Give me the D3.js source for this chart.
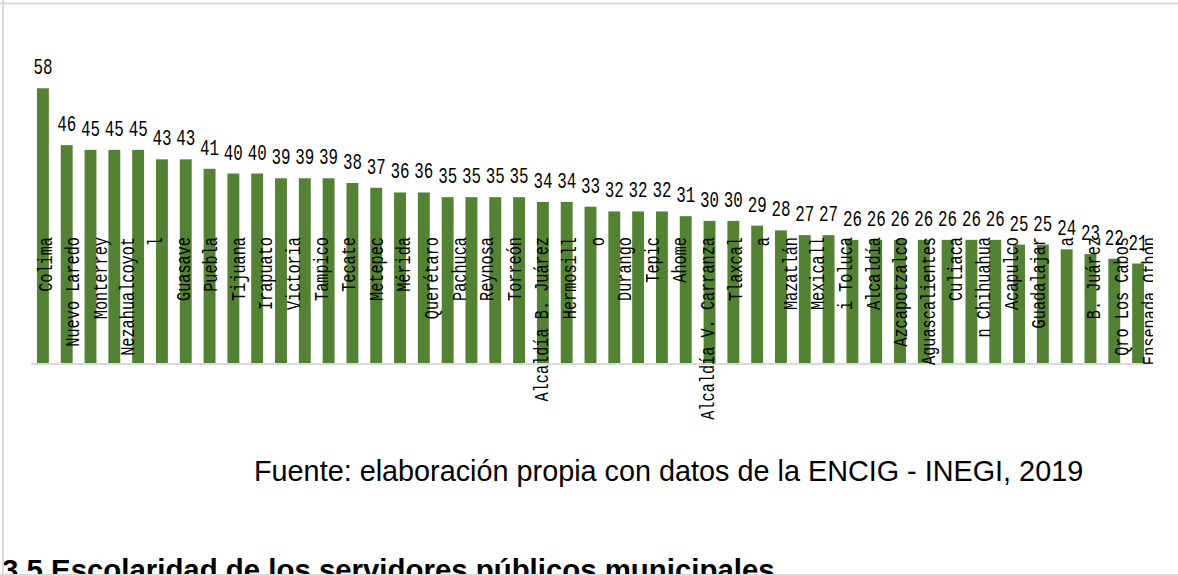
<!DOCTYPE html>
<html>
<head>
<meta charset="utf-8">
<script src="https://cdn.jsdelivr.net/npm/d3@7"></script>
<style>
  html, body { margin: 0; padding: 0; background: #fff; }
  svg { display: block; }
</style>
</head>
<body>
<svg id="chart" width="1178" height="576"></svg>
<script>
// Porcentaje por municipio, ordenado de mayor a menor
const valores = [58, 46, 45, 45, 45, 43, 43, 41, 40, 40, 39, 39, 39, 38, 37, 36, 36,
  35, 35, 35, 35, 34, 34, 33, 32, 32, 32, 31, 30, 30, 29, 28, 27, 27, 26, 26, 26,
  26, 26, 26, 26, 25, 25, 24, 23, 22, 21];

// Etiquetas del eje de categorías, tal como quedan partidas en líneas
const etiquetas = ["Colima", "Nuevo Laredo", "Monterrey", "Nezahualcoyot", "l", "Guasave",
  "Puebla", "Tijuana", "Irapuato", "Victoria", "Tampico", "Tecate", "Metepec", "Mérida",
  "Querétaro", "Pachuca", "Reynosa", "Torreón", "Alcaldía B. Juárez", "Hermosill", "o",
  "Durango", "Tepic", "Ahome", "Alcaldía V. Carranza", "Tlaxcal", "a", "Mazatlán",
  "Mexicall", "i Toluca", "Alcaldía", "Azcapotzalco", "Aguascalientes", "Culiaca",
  "n Chihuahua", "Acapulco", "Guadalajar", "a", "B. Juárez", "Qro Los Cabos",
  "Ensenada Othón"];

const fuente = "Fuente: elaboración propia con datos de la ENCIG - INEGI, 2019";
const titulo = "3.5 Escolaridad de los servidores públicos municipales";

const svg = d3.select("#chart");
const W = 1178, H = 576;
const baseY = 363;

svg.append("rect").attr("width", W).attr("height", H).attr("fill", "#fff");

const x = d3.scaleBand()
  .domain(d3.range(valores.length))
  .range([31, 1150])
  .paddingInner(0.5)
  .paddingOuter(0.25);

const y = d3.scaleLinear().domain([0, 60]).range([baseY, 78.8]);

const xLab = d3.scalePoint()
  .domain(d3.range(etiquetas.length))
  .range([44, 1148]);

// Barras
svg.append("g")
  .selectAll("rect")
  .data(valores)
  .join("rect")
  .attr("x", (d, i) => x(i))
  .attr("y", d => y(d))
  .attr("width", x.bandwidth())
  .attr("height", d => y(0) - y(d))
  .attr("fill", "#548235");

// Línea base del eje
svg.append("line")
  .attr("x1", 31).attr("x2", 1150)
  .attr("y1", baseY + 1).attr("y2", baseY + 1)
  .attr("stroke", "#d9d9d9").attr("stroke-width", 2);

// Etiquetas de categoría, verticales
svg.append("clipPath").attr("id", "clipLab")
  .append("rect").attr("x", 0).attr("y", 0).attr("width", 1153).attr("height", H);

svg.append("g")
  .attr("clip-path", "url(#clipLab)")
  .selectAll("text")
  .data(etiquetas)
  .join("text")
  .attr("transform", (d, i) => `translate(${xLab(i)},237) rotate(-90) scale(0.726,1)`)
  .attr("dy", "0.36em")
  .attr("text-anchor", "end")
  .attr("font-family", "'Liberation Mono', 'DejaVu Sans Mono', monospace")
  .attr("font-size", 21)
  .attr("fill", "#000")
  .text(d => d);

// Valores sobre cada barra
svg.append("g")
  .selectAll("text")
  .data(valores)
  .join("text")
  .attr("transform", (d, i) => `translate(${x(i) + x.bandwidth() / 2},${y(d) - 14}) scale(0.72,1)`)
  .attr("text-anchor", "middle")
  .attr("font-family", "'Liberation Mono', 'DejaVu Sans Mono', monospace")
  .attr("font-size", 22)
  .attr("fill", "#000")
  .text(d => d);

// Nota de fuente
svg.append("text")
  .attr("x", 254).attr("y", 481)
  .attr("font-family", "'Liberation Sans', Arial, sans-serif")
  .attr("font-size", 28.8)
  .attr("fill", "#000")
  .text(fuente);

// Encabezado de la sección siguiente
svg.append("text")
  .attr("x", 2).attr("y", 580)
  .attr("font-family", "'Liberation Sans', Arial, sans-serif")
  .attr("font-weight", "bold")
  .attr("font-size", 29.4)
  .attr("fill", "#000")
  .text(titulo);

// Marco
const marco = svg.append("g").attr("stroke", "#d9d9d9").attr("stroke-width", 2);
marco.append("line").attr("x1", 0).attr("x2", W).attr("y1", 3.5).attr("y2", 3.5);
marco.append("line").attr("x1", 3).attr("x2", 3).attr("y1", 0).attr("y2", H);
marco.append("line").attr("x1", 0).attr("x2", W).attr("y1", 575).attr("y2", 575);
</script>
</body>
</html>
